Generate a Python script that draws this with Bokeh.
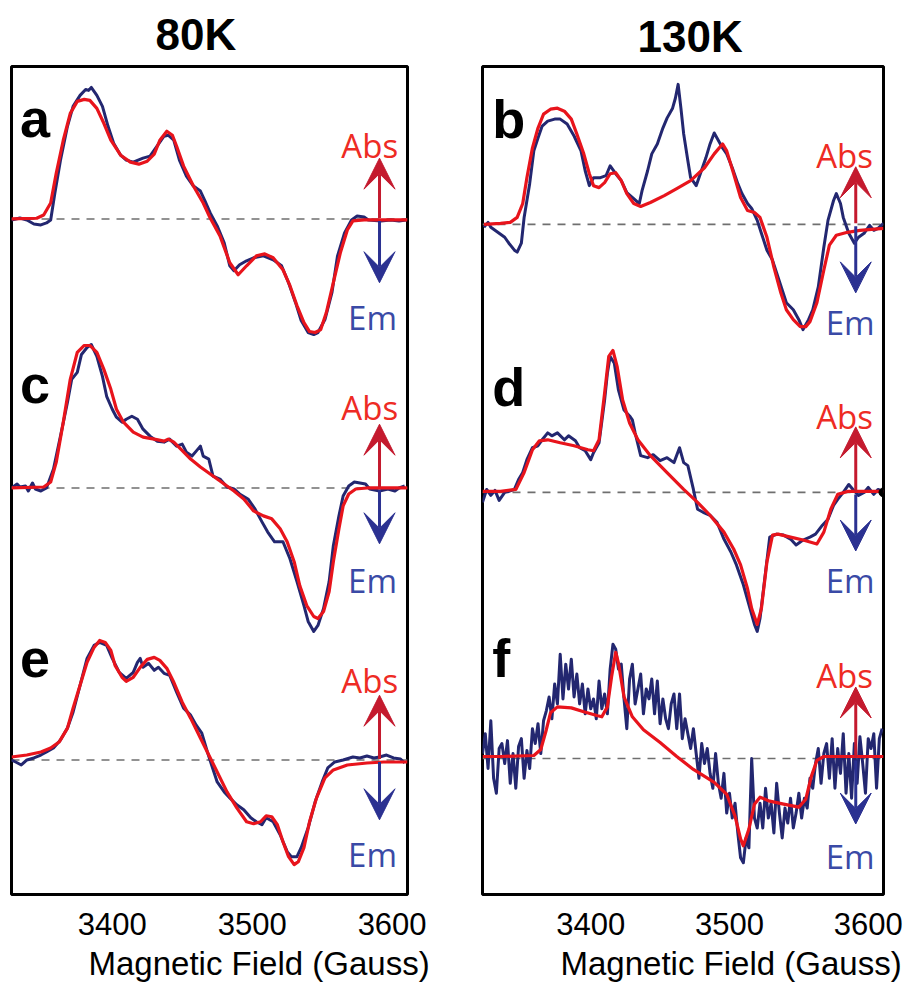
from bokeh.plotting import figure
from bokeh.layouts import row
from bokeh.models import Span, Label, Arrow, VeeHead, FixedTicker, Range1d, Title
from bokeh.embed import file_html
from bokeh.resources import INLINE

# ---------------- data (x: magnetic field in Gauss, y: EPR intensity, a.u.) -------------
ticks = [3400, 3500, 3600]
col_titles = ["80K", "130K"]
panel_letters = ["a", "c", "e", "b", "d", "f"]
x_label = "Magnetic Field (Gauss)"

# panel a (80K, top)
a_exp_x = [3328,3334,3339,3344,3349,3353,3356,3359,3363,3368,3372,3377,3381,3383,3385,3389,3393,3397,3401,3406,
           3410,3415,3422,3427,3432,3437,3440,3444,3448,3453,3458,3463,3466,3470,3475,3480,3484,3487,3491,3496,
           3501,3508,3515,3521,3526,3531,3535,3540,3544,3547,3552,3557,3561,3566,3571,3575,3580,3583,3592,3599,
           3605,3610]
a_exp_y = [-1,1,-1,-5,-6,-4,-1,26,59,93,113,124,130,129,132,124,113,93,76,64,
           59,57,61,63,73,83,84,79,59,43,33,28,19,6,-7,-24,-47,-52,-46,-42,
           -39,-37,-41,-47,-64,-84,-102,-114,-116,-114,-101,-74,-37,-14,-1,3,2,-1,-2,-1,
           -2,-1]
a_fit_x = [3328,3346,3351,3356,3360,3365,3370,3375,3380,3384,3389,3394,3399,3406,3413,3419,3425,3430,3434,3439,
           3443,3446,3451,3458,3465,3470,3477,3484,3490,3496,3503,3509,3515,3522,3527,3532,3537,3541,3545,3549,
           3553,3558,3563,3568,3572,3580,3611]
a_fit_y = [0,0.7,4,16,46,79,106,118,120,119,111,96,79,64,57,55,58,65,79,88,
           84,73,53,33,16,1,-17,-44,-56,-47,-37,-35,-39,-51,-67,-87,-104,-113,-114,-111,
           -94,-64,-34,-11,-2,-1,-1]

# panel c (80K, middle)
c_exp_x = [3328,3332,3334,3338,3340,3343,3345,3349,3353,3358,3363,3368,3371,3375,3378,3382,3385,3389,3393,3396,
           3400,3403,3407,3410,3414,3418,3422,3427,3432,3437,3441,3446,3450,3453,3457,3460,3463,3465,3469,3472,
           3477,3482,3487,3491,3497,3502,3507,3511,3516,3522,3527,3532,3537,3540,3544,3547,3551,3555,3558,3562,
           3565,3569,3573,3577,3581,3584,3591,3597,3602,3605,3609]
c_exp_y = [0,4,1,2,-3,5,-1,-3,0,19,52,86,109,116,134,141,144,132,112,92,
           79,71,66,69,72,69,59,52,47,46,49,42,44,36,32,37,42,32,29,12,
           9,1,-1,-6,-11,-21,-34,-44,-54,-54,-71,-94,-118,-134,-144,-138,-121,-94,-58,-28,
           -8,2,6,5,4,-1,-3,-1,-3,0,2]
c_fit_x = [3328,3351,3356,3360,3365,3370,3375,3380,3384,3389,3394,3399,3403,3408,3415,3422,3430,3437,3440,3444,
           3449,3456,3463,3472,3480,3487,3494,3501,3508,3514,3520,3525,3530,3534,3539,3544,3547,3551,3555,3558,
           3562,3565,3569,3574,3582,3611]
c_fit_y = [0,1,6,26,66,109,136,143,143,136,119,99,79,66,56,51,49,47,49,46,
           39,29,21,12,4,-3,-11,-23,-28,-31,-41,-54,-74,-98,-118,-129,-131,-124,-104,-74,
           -41,-18,-6,-1,0,0]

# panel e (80K, bottom)
e_exp_x = [3328,3331,3335,3339,3344,3349,3353,3358,3363,3368,3372,3377,3382,3387,3391,3396,3400,3405,3410,3415,
           3418,3420,3422,3426,3430,3433,3437,3441,3446,3451,3456,3460,3464,3468,3471,3475,3480,3484,3489,3494,
           3499,3503,3507,3510,3515,3520,3525,3528,3532,3535,3540,3545,3550,3554,3559,3565,3572,3577,3582,3587,
           3591,3596,3601,3606,3609]
e_exp_y = [0,-2,-5,0,2,5,8,12,20,32,48,75,102,115,118,115,102,88,82,88,
           98,102,93,97,90,93,87,85,68,52,45,35,27,8,-5,-22,-32,-38,-45,-50,
           -58,-62,-65,-58,-62,-75,-92,-97,-97,-88,-68,-42,-22,-8,-2,0,3,2,4,2,
           3,5,2,1,-3]
e_fit_x = [3328,3339,3349,3356,3362,3368,3372,3377,3382,3387,3391,3395,3399,3402,3407,3410,3415,3420,3425,3430,
           3434,3439,3444,3450,3456,3463,3469,3475,3482,3489,3496,3501,3506,3510,3514,3518,3522,3526,3530,3533,
           3537,3541,3546,3552,3558,3568,3582,3594,3611]
e_fit_y = [3,5,8,12,18,32,52,75,98,113,120,118,110,95,83,79,83,93,101,103,
           100,92,78,58,42,22,5,-12,-32,-48,-62,-64,-62,-56,-57,-65,-82,-97,-105,-102,
           -88,-62,-38,-18,-10,-5,-3,-2,-2]

# panel b (130K, top)
b_exp_x = [3323,3326,3328,3333,3338,3341,3345,3347,3350,3352,3356,3359,3362,3365,3369,3374,3378,3383,3388,3393,
           3396,3399,3402,3407,3411,3414,3418,3422,3426,3431,3435,3437,3441,3444,3448,3452,3455,3459,3461,3463,
           3465,3467,3470,3472,3476,3479,3483,3486,3489,3491,3495,3498,3502,3506,3509,3513,3516,3520,3523,3527,
           3531,3534,3538,3541,3546,3550,3553,3557,3560,3564,3568,3571,3575,3577,3580,3582,3586,3590,3593,3597,
           3601,3604,3607,3611]
b_exp_y = [-3,2,-3,-8,-13,-19,-26,-28,-19,7,41,74,87,99,104,106,106,101,89,74,
           54,39,47,47,49,59,51,44,32,26,21,34,54,71,81,97,107,117,127,141,
           117,91,64,47,39,51,67,81,92,87,77,71,57,41,31,21,16,4,-9,-26,
           -36,-49,-66,-79,-86,-96,-106,-96,-86,-63,-23,4,24,31,21,7,-9,-19,-13,-9,
           -1,-6,-4,1]
b_fit_x = [3323,3335,3342,3347,3351,3354,3358,3362,3366,3371,3376,3381,3386,3390,3395,3399,3402,3406,3410,3414,
           3418,3422,3426,3431,3436,3443,3453,3462,3472,3482,3489,3495,3498,3503,3508,3513,3518,3522,3527,3532,
           3537,3541,3546,3551,3555,3558,3563,3568,3572,3577,3585,3594,3611]
b_fit_y = [0,1,2,7,21,47,77,97,111,116,117,114,106,91,71,51,39,37,42,51,
           52,44,31,21,18,22,29,36,44,57,71,81,74,51,27,14,12,7,-13,-43,
           -69,-86,-96,-103,-103,-98,-79,-46,-21,-11,-8,-6,-4]

# panel d (130K, middle)
d_exp_x = [3322,3325,3328,3331,3334,3338,3341,3345,3348,3351,3354,3358,3362,3365,3369,3372,3376,3381,3384,3389,
           3392,3396,3400,3402,3406,3410,3412,3414,3417,3420,3424,3428,3430,3432,3436,3441,3445,3450,3455,3460,
           3464,3467,3470,3474,3477,3481,3486,3491,3496,3501,3505,3510,3514,3518,3520,3522,3526,3529,3534,3539,
           3544,3548,3553,3558,3562,3567,3571,3575,3578,3582,3586,3589,3593,3597,3600,3604,3607,3611]
d_exp_y = [-10,3,-3,2,-8,0,1,3,13,20,33,45,47,53,60,57,60,53,57,52,
           45,42,33,40,50,93,120,137,130,103,83,77,73,60,37,35,38,32,35,30,
           45,30,27,3,-17,-20,-23,-30,-47,-60,-73,-93,-113,-133,-140,-127,-80,-45,-42,-43,
           -47,-53,-48,-45,-42,-33,-27,-13,-7,0,8,3,-3,0,5,-2,3,1]
d_fit_x = [3322,3335,3346,3352,3358,3363,3369,3378,3388,3398,3402,3406,3410,3413,3416,3419,3423,3428,3434,3443,
           3455,3467,3477,3486,3496,3503,3508,3513,3516,3520,3523,3527,3531,3535,3544,3553,3563,3568,3573,3578,
           3585,3611]
d_fit_y = [1,1,3,20,43,52,53,50,47,43,42,53,100,137,143,127,93,70,53,37,
           20,3,-10,-23,-40,-57,-73,-97,-117,-133,-117,-70,-43,-42,-45,-48,-52,-40,-17,-2,
           1,1]
d_dot_x = [3611]
d_dot_y = [0]

# panel f (130K, bottom)
f_exp_x = [3322,3324,3326,3328,3330,3332,3334,3336,3338,3340,3342,3344,3346,3348,3350,3352,3354,3356,3358,3360,
           3362,3364,3366,3368,3370,3372,3374,3376,3378,3380,3382,3384,3386,3388,3390,3392,3394,3396,3398,3400,
           3402,3404,3406,3408,3410,3412,3414,3416,3418,3420,3422,3424,3426,3428,3430,3432,3434,3436,3438,3440,
           3442,3444,3446,3448,3450,3452,3454,3456,3458,3460,3462,3464,3466,3468,3470,3472,3474,3476,3478,3480,
           3482,3484,3486,3488,3490,3492,3494,3496,3498,3500,3502,3504,3506,3508,3510,3512,3514,3516,3518,3520,
           3522,3524,3526,3528,3530,3532,3534,3536,3538,3540,3542,3544,3546,3548,3550,3552,3554,3556,3558,3560,
           3562,3564,3566,3568,3570,3572,3574,3576,3578,3580,3582,3584,3586,3588,3590,3592,3594,3596,3598,3600,
           3602,3604,3606,3608,3610]
f_exp_y = [5,25,-10,38,-20,-35,10,15,-5,18,-25,5,-30,12,20,-20,8,-10,30,15,
           35,5,38,48,62,40,75,55,105,60,95,70,100,62,85,55,75,45,70,50,
           60,40,78,50,65,45,90,115,110,90,95,60,30,80,95,55,70,85,45,70,
           60,80,45,78,35,60,40,30,55,65,30,65,20,40,25,10,30,5,-20,15,
           -5,10,-15,-30,5,-25,-40,-15,-55,-35,-60,-45,-75,-100,-105,-80,-90,0,-60,-70,
           -45,-70,-30,-60,-45,-75,-25,-55,-80,-50,-65,-40,-70,-55,-35,-60,-40,-50,-20,-30,
           -5,10,-25,5,15,-20,20,-30,10,-15,25,-35,5,-40,15,-25,22,-5,-35,20,
           10,25,-30,20,30]
f_fit_x = [3322,3335,3359,3364,3368,3371,3376,3386,3395,3405,3408,3412,3415,3418,3420,3424,3430,3438,3450,3462,
           3474,3489,3498,3504,3508,3510,3514,3518,3522,3529,3539,3550,3555,3559,3563,3568,3611]
f_fit_y = [2,2,3,9,29,46,52,51,47,43,42,52,82,107,96,62,42,29,16,2,
           -11,-24,-36,-58,-81,-88,-71,-46,-39,-43,-46,-49,-41,-18,-2,2,2]

# ---------------- styling / layout -------------
EXP_COLOR = "#232770"
FIT_COLOR = "#e8141c"
ARROW_UP = "#c41a2e"
ARROW_DN = "#2b3191"
ABS_COLOR = "#ee2b24"
EM_COLOR = "#3a4aa6"
H = 987

def build(xr, yr, width, mbl, mbr, mbt, mbb, title, title_off, title_standoff, label_off):
    p = figure(width=width, height=H, x_range=Range1d(*xr), y_range=Range1d(*yr),
               output_backend="svg", toolbar_location=None, y_axis_location=None,
               min_border_left=mbl, min_border_right=mbr, min_border_top=mbt, min_border_bottom=mbb)
    p.grid.visible = False
    p.outline_line_color = "black"
    p.outline_line_width = 3
    p.background_fill_color = "white"
    p.border_fill_color = "white"
    ax = p.xaxis[0]
    ax.ticker = FixedTicker(ticks=ticks)
    ax.axis_line_color = None
    ax.major_tick_line_color = None
    ax.minor_tick_line_color = None
    ax.major_tick_out = 0
    ax.major_tick_in = 0
    ax.major_label_text_font = "Liberation Sans"
    ax.major_label_text_font_size = "31px"
    ax.major_label_text_color = "black"
    ax.major_label_standoff = 18
    p.title.text = title
    p.title.align = "left"
    p.title.offset = title_off
    p.title.standoff = title_standoff
    p.title.text_font = "Liberation Sans"
    p.title.text_font_style = "bold"
    p.title.text_font_size = "44px"
    p.title.text_color = "black"
    p.add_layout(Title(text=x_label, align="left", offset=label_off, standoff=11,
                       text_font="Liberation Sans", text_font_style="normal",
                       text_font_size="33px", text_color="black"), "below")
    return p

def add_panel(p, off, exp_x, exp_y, fit_x, fit_y, letter, letter_x, abs_dy, em_dy, up_dy, dn_dy, txt_x, em_x, arr_x):
    p.add_layout(Span(location=off, dimension="width", line_color="#6f6f6f", line_width=1.6,
                      line_dash="8 7", level="underlay"))
    p.line(exp_x, [v + off for v in exp_y], line_color=EXP_COLOR, line_width=3, line_join="round")
    p.line(fit_x, [v + off for v in fit_y], line_color=FIT_COLOR, line_width=3.2, line_join="round")
    p.add_layout(Arrow(end=VeeHead(size=31, fill_color=ARROW_UP, line_color=ARROW_UP, line_width=1),
                       x_start=arr_x, y_start=off + 1, x_end=arr_x, y_end=off + up_dy,
                       line_color=ARROW_UP, line_width=3))
    p.add_layout(Arrow(end=VeeHead(size=31, fill_color=ARROW_DN, line_color=ARROW_DN, line_width=1),
                       x_start=arr_x, y_start=off - 2, x_end=arr_x, y_end=off + dn_dy,
                       line_color=ARROW_DN, line_width=3))
    p.add_layout(Label(x=txt_x, y=off + abs_dy, text="Abs", text_font="Open Sans", text_font_size="33px",
                       text_color=ABS_COLOR, text_align="center", text_baseline="alphabetic"))
    p.add_layout(Label(x=em_x, y=off + em_dy, text="Em", text_font="Open Sans", text_font_size="33px",
                       text_color=EM_COLOR, text_align="center", text_baseline="alphabetic"))
    p.add_layout(Label(x=letter_x, y=off + letter[1], text=letter[0], text_font="Liberation Sans",
                       text_font_style="bold", text_font_size="54px", text_color="black",
                       text_align="left", text_baseline="alphabetic"))

# left column (80K): frame 11..407 x 66..897
pl = build((3328, 3611), (0, 831), 450, 11, 43, 66, H - 897, col_titles[0], 144, 15, 77)
add_panel(pl, 678, a_exp_x, a_exp_y, a_fit_x, a_fit_y, (panel_letters[0], 101), 3334, 74, -99, 61, -64, 3584, 3586, 3591)
add_panel(pl, 408, c_exp_x, c_exp_y, c_fit_x, c_fit_y, (panel_letters[1], 104), 3334, 81, -93, 64, -56, 3584, 3586, 3591)
add_panel(pl, 135, e_exp_x, e_exp_y, e_fit_x, e_fit_y, (panel_letters[2], 102), 3334, 80, -95, 65, -60, 3584, 3586, 3591)

# right column (130K): frame 482..883 x 62..896
pr = build((3322, 3611), (0, 834), 459, 32, 26, 62, H - 896, col_titles[1], 155, 11, 78)
add_panel(pr, 675, b_exp_x, b_exp_y, b_fit_x, b_fit_y, (panel_letters[3], 106), 3329, 69, -99, 58, -69, 3583, 3587, 3591)
add_panel(pr, 405, d_exp_x, d_exp_y, d_fit_x, d_fit_y, (panel_letters[4], 106), 3329, 76, -89, 66, -59, 3583, 3587, 3591)
add_panel(pr, 137, f_exp_x, f_exp_y, f_fit_x, f_fit_y, (panel_letters[5], 101), 3329, 84, -99, 72, -66, 3583, 3587, 3591)
pr.scatter(d_dot_x, [v + 405 for v in d_dot_y], size=9, color="black")

layout = row(pl, pr)
open("out.html", "w").write(file_html(layout, INLINE))
